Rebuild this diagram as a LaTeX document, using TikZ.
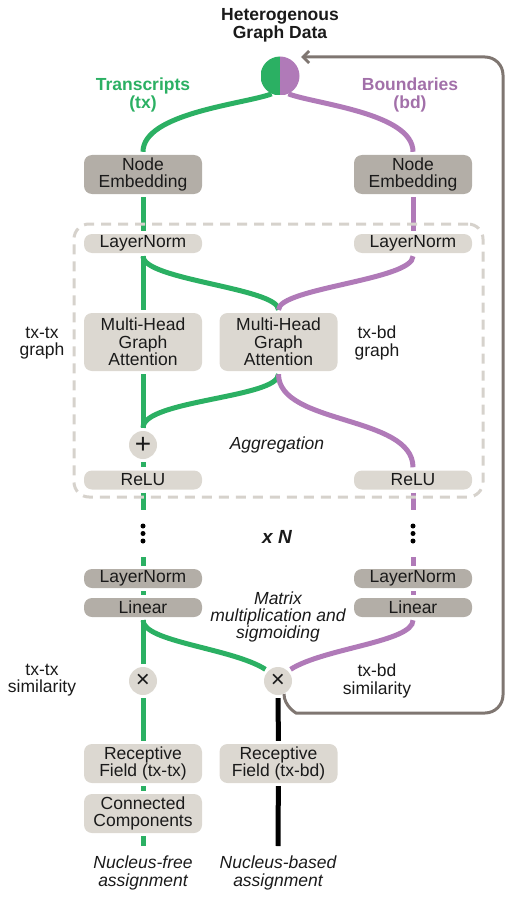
\documentclass[tikz,border=0pt]{standalone}
\usepackage{fontspec}
\setmainfont{Liberation Sans}
\usetikzlibrary{arrows.meta}
\definecolor{cgreen}{HTML}{2BB063}
\definecolor{cpurple}{HTML}{B07AB8}
\definecolor{boxlight}{HTML}{DCD8D1}
\definecolor{boxdark}{HTML}{B3AEA7}
\definecolor{fbgray}{HTML}{7F7671}
\definecolor{dashgray}{HTML}{D6D2CC}
\definecolor{txt}{HTML}{1A1A1A}
\pgfdeclarelayer{background}
\pgfsetlayers{background,main}
\begin{document}
\begin{tikzpicture}[x=1pt,y=-1pt,
  font=\fontsize{17.5}{17.5}\selectfont, text=txt,
  lbox/.style={fill=boxlight, rounded corners=8pt, minimum width=118pt, inner sep=0pt, align=center},
  dbox/.style={lbox, fill=boxdark},
  hone/.style={minimum height=19pt},
  htwo/.style={minimum height=39pt},
  hthree/.style={minimum height=58pt},
  opcirc/.style={circle, fill=boxlight, minimum size=28pt, inner sep=0pt},
  lab/.style={align=center, inner sep=0pt},
  gline/.style={line width=5pt, cgreen, shorten <=3pt, shorten >=3pt},
  pline/.style={line width=5pt, cpurple, shorten <=3pt, shorten >=3pt},
  kline/.style={line width=5pt, black, shorten <=3pt, shorten >=3pt},
  fbline/.style={line width=3pt, fbgray, rounded corners=18pt},
  dotc/.style={circle, fill=black, minimum size=5pt, inner sep=0pt}
]
\useasboundingbox (0,0) rectangle (530,912);

% loop box
\node[draw=dashgray, line width=3pt, dash pattern=on 10pt off 7pt, rounded corners=15pt,
      minimum width=409pt, minimum height=273pt, inner sep=0pt] (loop) at (278.5,360.5) {};

% title and source
\node[lab, font=\fontsize{17.5}{18}\selectfont\bfseries] (title) at (280,25) {Heterogenous\\Graph Data};
\node[circle, minimum size=39pt, inner sep=0pt,
  path picture={\fill[cgreen] (path picture bounding box.north west) rectangle (path picture bounding box.south);
                \fill[cpurple] (path picture bounding box.north) rectangle (path picture bounding box.south east);}]
  (src) at (280,76) {};
\node[lab, text=cgreen, font=\fontsize{17.5}{18}\selectfont\bfseries] (trl) at (143,95) {Transcripts\\(tx)};
\node[lab, text=cpurple!92!black, font=\fontsize{17.5}{18}\selectfont\bfseries] (bdl) at (410,95) {Boundaries\\(bd)};

% boxes
\node[dbox,htwo] (ne1) at (143,174.5) {Node\\Embedding};
\node[dbox,htwo] (ne2) at (413,174.5) {Node\\Embedding};
\node[lbox,hone] (ln1) at (143,243.5) {LayerNorm};
\node[lbox,hone] (ln2) at (413,243.5) {LayerNorm};
\node[lbox,hthree] (mh1) at (143,342) {Multi-Head\\Graph\\Attention};
\node[lbox,hthree] (mh2) at (278.5,342) {Multi-Head\\Graph\\Attention};
\node[opcirc, font=\fontsize{28}{28}\selectfont] (plus) at (143,445) {+};
\node[lbox,hone] (re1) at (143,480) {ReLU};
\node[lbox,hone] (re2) at (413,480) {ReLU};

\node[lab] (g1) at (42,343) {tx-tx\\graph};
\node[lab] (g2) at (377,343) {tx-bd\\graph};
\node[lab, font=\fontsize{17.5}{17.5}\selectfont\itshape] (agg) at (277,445) {Aggregation};

% repeat dots
\node[dotc] (d1) at (143,526) {};
\node[dotc] (d2) at (143,533.5) {};
\node[dotc] (d3) at (143,541) {};
\node[dotc] (d4) at (413,526) {};
\node[dotc] (d5) at (413,533.5) {};
\node[dotc] (d6) at (413,541) {};
\coordinate (la) at (143,510);
\coordinate (lb) at (143,557);
\coordinate (ra) at (413,510);
\coordinate (rb) at (413,557);
\node[lab, font=\fontsize{19}{19}\selectfont\bfseries\itshape] (xn) at (277,537) {x N};

\node[dbox,hone] (ln3) at (143,578.5) {LayerNorm};
\node[dbox,hone] (ln4) at (413,578.5) {LayerNorm};
\node[dbox,hone] (li1) at (143,607.5) {Linear};
\node[dbox,hone] (li2) at (413,607.5) {Linear};
\node[lab, font=\fontsize{17.5}{17}\selectfont\itshape] (mm) at (278,617) {Matrix\\multiplication and\\sigmoiding};

\node[opcirc, font=\fontsize{24}{24}\selectfont] (m1) at (143,681) {×};
\node[opcirc, font=\fontsize{24}{24}\selectfont] (m2) at (278,681) {×};
\node[lab] (s1) at (42,680) {tx-tx\\similarity};
\node[lab] (s2) at (377,681) {tx-bd\\similarity};

\node[lbox,htwo] (rf1) at (143,763.5) {Receptive\\Field (tx-tx)};
\node[lbox,htwo] (rf2) at (278.5,763.5) {Receptive\\Field (tx-bd)};
\node[lbox,htwo] (cc) at (143,813.5) {Connected\\Components};
\coordinate (e1) at (143,846);
\coordinate (e2) at (278,846);
\node[lab, font=\fontsize{17.5}{18}\selectfont\itshape] (na1) at (143,873) {Nucleus-free\\assignment};
\node[lab, font=\fontsize{17.5}{18}\selectfont\itshape] (na2) at (278,873) {Nucleus-based\\assignment};

\coordinate (arr) at (301,57);

\begin{pgfonlayer}{background}
% green path
\draw[gline, shorten <=0pt] (src.245) .. controls (245,104) and (143,113) .. (ne1.north);
\draw[gline] (ne1) -- (ln1);
\draw[gline] (ln1) -- (mh1);
\draw[gline] (ln1.south) .. controls (143,280) and (278.5,288) .. (mh2.north);
\draw[gline] (mh1) -- (plus);
\draw[gline] (mh2.south) .. controls (278.5,398) and (143,400) .. (plus.north);
\draw[gline] (plus) -- (re1);
\draw[gline, shorten >=0pt] (re1) -- (la);
\draw[gline, shorten <=0pt] (lb) -- (ln3);
\draw[gline] (ln3) -- (li1);
\draw[gline] (li1) -- (m1);
\draw[gline] (li1.south) .. controls (143,642) and (232,648) .. (m2.135);
\draw[gline] (m1) -- (rf1);
\draw[gline] (rf1) -- (cc);
\draw[gline, shorten >=0pt] (cc) -- (e1);
% purple path
\draw[pline, shorten <=0pt] (src.295) .. controls (315,104) and (413,113) .. (ne2.north);
\draw[pline] (ne2) -- (ln2);
\draw[pline] (ln2.south) .. controls (413,280) and (278.5,288) .. (mh2.north);
\draw[pline] (mh2.south) .. controls (278.5,425) and (413,415) .. (re2.north);
\draw[pline, shorten >=0pt] (re2) -- (ra);
\draw[pline, shorten <=0pt] (rb) -- (ln4);
\draw[pline] (ln4) -- (li2);
\draw[pline] (li2.south) .. controls (413,642) and (324,648) .. (m2.45);
% black path
\draw[kline] (m2) -- (rf2);
\draw[kline, shorten >=0pt] (rf2) -- (e2);
% feedback
\draw[fbline, -{Straight Barb[length=6pt,width=12pt]}] (m2.-65) .. controls (284,706) and (296,713) .. (314,713)
   -- (503,713) -- (503,57) -- (arr);
\end{pgfonlayer}
\end{tikzpicture}
\end{document}
